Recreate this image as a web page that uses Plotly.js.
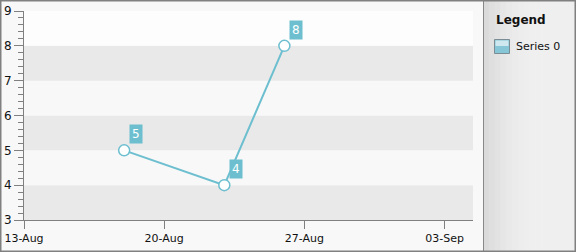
<!DOCTYPE html>
<html>
<head>
<meta charset="utf-8">
<script src="https://cdn.plot.ly/plotly-3.0.1.min.js"></script>
<style>html,body{margin:0;padding:0;background:#fafafa;}#chart{width:576px;height:252px;}</style>
</head>
<body>
<div id="chart"></div>
<script>
// ---- data ----
const dates = ['2012-08-18', '2012-08-23', '2012-08-26'];
const values = [5, 4, 8];
const seriesName = 'Series 0';
const xTickVals = ['2012-08-13', '2012-08-20', '2012-08-27', '2012-09-03'];
const xTickText = ['13-Aug', '20-Aug', '27-Aug', '03-Sep'];
const yTickVals = [3, 4, 5, 6, 7, 8, 9];
const legendTitle = 'Legend';

// ---- layout geometry ----
const W = 576, H = 252;
const M = {l: 24, r: 103, t: 11, b: 32};
const pw = W - M.l - M.r, ph = H - M.t - M.b;
const px = x => (x - M.l) / pw;
const py = y => 1 - (y - M.t) / ph;

const teal = '#6dbfd0';
const font = 'DejaVu Sans, Verdana, sans-serif';

const shapes = [];
// alternating bands
for (let i = 0; i < yTickVals.length - 1; i++) {
  const lo = yTickVals[i], hi = yTickVals[i + 1];
  let col = (i % 2 === 0) ? '#e9e9e9' : '#f8f8f8';
  if (i === yTickVals.length - 2) col = '#fdfdfd';
  shapes.push({type: 'rect', xref: 'paper', yref: 'y', x0: 0, x1: 1, y0: lo, y1: hi,
    fillcolor: col, line: {width: 0}, layer: 'below'});
}
// legend panel gradient strips (dark at left, light to the right)
const panelX0 = 483, panelX1 = 576;
const nStrips = 16;
for (let i = 0; i < nStrips; i++) {
  const a = panelX0 + (panelX1 - panelX0) * i / nStrips;
  const b = panelX0 + (panelX1 - panelX0) * (i + 1) / nStrips;
  const t = Math.min(1, i / (nStrips * 0.55));
  const e = 1 - Math.pow(1 - t, 2);
  const c = Math.round(0xda + (0xef - 0xda) * e);
  const hex = '#' + c.toString(16).repeat(3);
  shapes.push({type: 'rect', xref: 'paper', yref: 'paper', x0: px(a), x1: px(b + 0.5), y0: py(0), y1: py(H),
    fillcolor: hex, line: {width: 0}, layer: 'above'});
}
shapes.push({type: 'line', xref: 'paper', yref: 'paper', x0: px(panelX0 + 0.5), x1: px(panelX0 + 0.5), y0: py(0), y1: py(H),
  line: {color: '#888888', width: 1}});
// outer border
shapes.push({type: 'rect', xref: 'paper', yref: 'paper', x0: px(0.75), x1: px(W - 0.75), y0: py(0.75), y1: py(H - 0.75),
  line: {color: '#808080', width: 1.5}, fillcolor: 'rgba(0,0,0,0)'});
// legend icon
shapes.push({type: 'rect', xref: 'paper', yref: 'paper', x0: px(494.5), x1: px(509.5), y0: py(53.5), y1: py(39.5),
  fillcolor: '#86c6d6', line: {color: '#7c8c94', width: 1}});
shapes.push({type: 'rect', xref: 'paper', yref: 'paper', x0: px(495.5), x1: px(508.5), y0: py(46), y1: py(40.5),
  fillcolor: '#cfe8ef', line: {width: 0}});

const annotations = [];
annotations.push({xref: 'paper', yref: 'paper', x: px(494), y: py(20), xanchor: 'left', yanchor: 'middle',
  text: '<b>' + legendTitle + '</b>', showarrow: false, font: {family: font, size: 12, color: '#111'}});
annotations.push({xref: 'paper', yref: 'paper', x: px(514), y: py(46), xanchor: 'left', yanchor: 'middle',
  text: seriesName, showarrow: false, font: {family: font, size: 11, color: '#111'}});
for (let i = 0; i < dates.length; i++) {
  annotations.push({x: dates[i], y: values[i], xref: 'x', yref: 'y', text: String(values[i]),
    showarrow: false, xanchor: 'left', yanchor: 'bottom', xshift: 5, yshift: 6,
    bgcolor: teal, borderpad: 2, font: {family: font, size: 12, color: '#ffffff'}});
}

const trace = {
  x: dates, y: values, type: 'scatter', mode: 'lines+markers', name: seriesName,
  line: {color: teal, width: 2},
  marker: {size: 11, color: '#ffffff', line: {color: teal, width: 1.5}},
  cliponaxis: false, showlegend: false, hoverinfo: 'skip'
};

const layout = {
  width: W, height: H,
  margin: M,
  paper_bgcolor: '#f8f8f8', plot_bgcolor: '#fbfbfb',
  showlegend: false,
  xaxis: {
    type: 'date', range: ['2012-08-13', '2012-09-04 10:00'],
    tickvals: xTickVals, ticktext: xTickText,
    showgrid: false, zeroline: false, showline: true, linecolor: '#808080', linewidth: 1,
    ticks: 'outside', ticklen: 8, tickcolor: '#808080', tickwidth: 1,
    tickfont: {family: font, size: 11, color: '#111'}
  },
  yaxis: {
    range: [3, 9], tickvals: yTickVals,
    showgrid: false, zeroline: false, showline: true, linecolor: '#808080', linewidth: 1,
    ticks: 'outside', ticklen: 9, tickcolor: '#808080', tickwidth: 1,
    minor: {dtick: 0.2, ticks: 'outside', ticklen: 5, tickcolor: '#808080', tickwidth: 1, showgrid: false},
    tickfont: {family: font, size: 12, color: '#111'}
  },
  shapes: shapes,
  annotations: annotations
};

Plotly.newPlot('chart', [trace], layout, {displayModeBar: false, staticPlot: true});
</script>
</body>
</html>
